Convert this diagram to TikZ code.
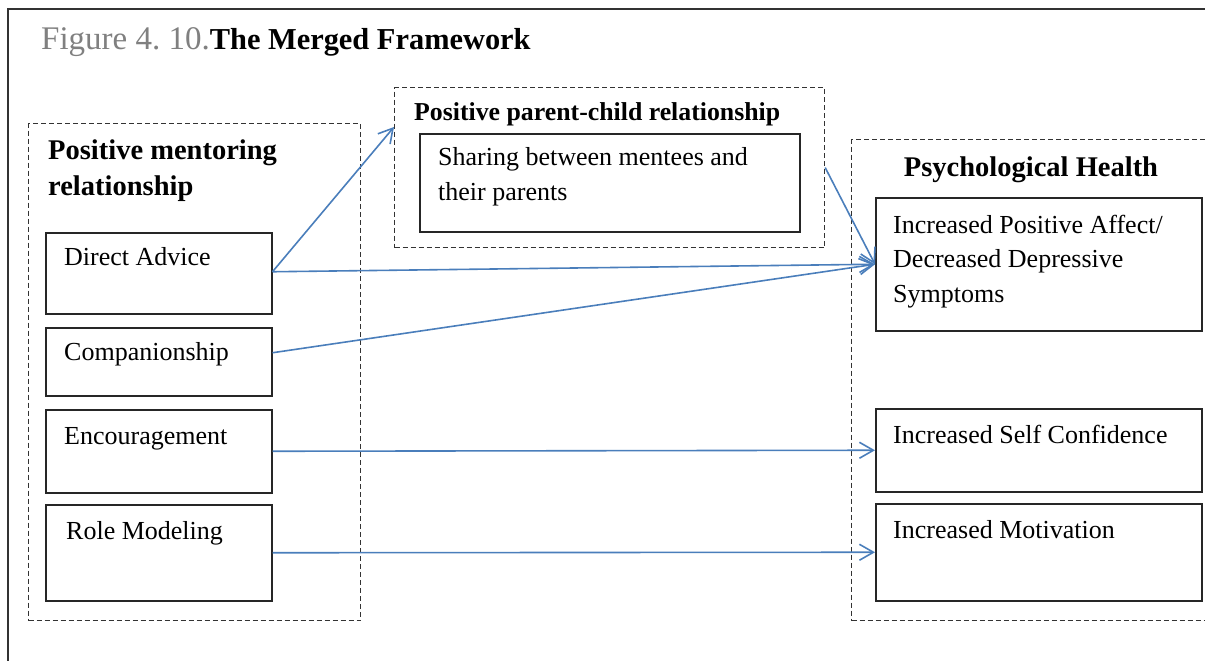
\documentclass[tikz,border=0pt]{standalone}
\usepackage{fontspec}
\setmainfont{Liberation Serif}
\usetikzlibrary{arrows.meta,calc}
\definecolor{arrowblue}{RGB}{74,126,187}
\definecolor{framegray}{RGB}{50,50,50}
\definecolor{captiongray}{RGB}{128,128,128}
\frenchspacing

\begin{document}
\begin{tikzpicture}[x=1pt,y=-1pt,
  group/.style={draw=black!80, line width=1.2pt, dash pattern=on 5pt off 3pt,
    anchor=north west, inner sep=0pt},
  itembox/.style={draw=black!85, line width=1.5pt, anchor=north west, inner sep=0pt},
  body/.style={font=\fontsize{26}{34.5}\selectfont, anchor=base west, inner sep=0pt, align=left},
  head/.style={font=\fontsize{28.5}{35.5}\selectfont\bfseries, anchor=base west,
    inner sep=0pt, align=left},
  link/.style={draw=arrowblue, line width=1.6pt,
    -{Straight Barb[length=14pt,width=16pt,line width=1.6pt]}},
]
\useasboundingbox (0,0) rectangle (1205,661);
\clip (0,0) rectangle (1205,661);

% outer frame (open to the right and bottom)
\draw[framegray, line width=2pt] (8,675) -- (8,9) -- (1220,9);

% caption
\node[anchor=base west, inner sep=0pt] (title) at (41,50)
  {\textcolor{captiongray}{\fontsize{33}{38}\selectfont Figure 4. 10.}%
   {\fontsize{30.4}{36}\selectfont\bfseries The Merged Framework}};

% dashed groups
\node[group, minimum width=332pt, minimum height=497pt] (mentor) at (28,123) {};
\node[group, minimum width=430pt, minimum height=160pt] (parent) at (394,87) {};
\node[group, minimum width=420pt, minimum height=481pt] (health) at (851,139) {};

% multi-line labels are placed by the baseline of their last line
\node[head] (mentor-t) at (48,195) {Positive mentoring\\relationship};
\node[head, font=\fontsize{25.8}{31}\selectfont\bfseries] (parent-t) at (414,121)
  {Positive parent-child relationship};
\node[head, anchor=base] (health-t) at (1031,176) {Psychological Health};

% mentoring functions
\node[itembox, minimum width=226pt, minimum height=81pt] (advice) at (45,232) {};
\node[itembox, minimum width=226pt, minimum height=68pt] (companion) at (45,327) {};
\node[itembox, minimum width=226pt, minimum height=83pt] (encourage) at (45,409) {};
\node[itembox, minimum width=226pt, minimum height=96pt] (role) at (45,504) {};

\node[body] (advice-t) at (64,265) {Direct Advice};
\node[body] (companion-t) at (64,360) {Companionship};
\node[body] (encourage-t) at (64,444) {Encouragement};
\node[body] (role-t) at (66,539) {Role Modeling};

% parent-child relationship
\node[itembox, minimum width=380pt, minimum height=98pt] (sharing) at (419,133) {};
\node[body] (sharing-t) at (438,200) {Sharing between mentees and\\their parents};

% outcomes
\node[itembox, minimum width=326pt, minimum height=133pt] (affect) at (875,197) {};
\node[itembox, minimum width=326pt, minimum height=83pt] (confidence) at (875,408) {};
\node[itembox, minimum width=326pt, minimum height=97pt] (motivation) at (875,503) {};

\node[body] (affect-t) at (893,302)
  {Increased Positive Affect/\\Decreased Depressive\\Symptoms};
\node[body] (confidence-t) at (893,443) {Increased Self Confidence};
\node[body] (motivation-t) at (893,538) {Increased Motivation};

% connectors
\draw[link] ([yshift=1.5pt]advice.east) -- ([yshift=-40pt]parent.north west);
\draw[link] ([yshift=1.5pt]advice.east) -- (affect.west);
\draw[link] ([yshift=9pt]companion.east) -- (affect.west);
\draw[link] (parent.east) -- (affect.west);
\draw[link] (encourage.east) -- (confidence.west);
\draw[link] (role.east) -- (motivation.west);
\end{tikzpicture}
\end{document}
